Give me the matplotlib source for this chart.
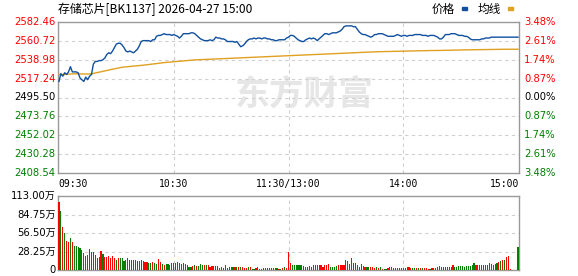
import matplotlib
matplotlib.use("Agg")
import matplotlib.pyplot as plt
from matplotlib.patches import Rectangle
import numpy as np

# --- data ---
title = "存储芯片[BK1137] 2026-04-27 15:00"
prev_close = 2495.50
price_ticks = [2408.54, 2430.28, 2452.02, 2473.76, 2495.50, 2517.24, 2538.98, 2560.72, 2582.46]
pct_labels = ["3.48%", "2.61%", "1.74%", "0.87%", "0.00%", "0.87%", "1.74%", "2.61%", "3.48%"][::-1]
vol_ticks = [0, 28.25, 56.50, 84.75, 113.00]
vol_labels = ["0", "28.25万", "56.50万", "84.75万", "113.00万"]
time_labels = ["09:30", "10:30", "11:30/13:00", "14:00", "15:00"]
time_pos = [0, 60, 120, 180, 240]

price = [
    2514, 2523, 2520, 2524, 2522, 2525, 2531, 2525, 2525, 2525,
    2524, 2518, 2516, 2514, 2519, 2516, 2520, 2522, 2534, 2537,
    2537, 2538, 2538, 2539, 2541, 2545, 2547, 2546, 2549, 2553,
    2557, 2558, 2558, 2556, 2553, 2549, 2548, 2549, 2548, 2547,
    2549, 2551, 2555, 2560, 2561, 2561, 2561, 2561, 2560, 2562,
    2562, 2566, 2567, 2567, 2568, 2569, 2568, 2568, 2568, 2567,
    2568, 2567, 2566, 2564, 2566, 2569, 2569, 2569, 2569, 2570,
    2570, 2569, 2567, 2565, 2563, 2562, 2561, 2561, 2561, 2562,
    2561, 2562, 2565, 2564, 2564, 2563, 2563, 2562, 2560, 2560,
    2560, 2560, 2559, 2560, 2557, 2554, 2555, 2557, 2560, 2562,
    2563, 2563, 2564, 2563, 2564, 2564, 2563, 2564, 2564, 2563,
    2563, 2562, 2562, 2561, 2561, 2562, 2562, 2562, 2562, 2564,
    2565, 2567, 2567, 2566, 2564, 2562, 2561, 2560, 2560, 2562,
    2563, 2564, 2563, 2564, 2563, 2561, 2563, 2565, 2567, 2569,
    2569, 2568, 2569, 2570, 2570, 2570, 2571, 2572, 2574, 2577,
    2578, 2578, 2578, 2578, 2577, 2577, 2574, 2571, 2569, 2568,
    2568, 2567, 2566, 2565, 2566, 2568, 2568, 2569, 2569, 2569,
    2568, 2567, 2566, 2566, 2566, 2566, 2567, 2568, 2567, 2566,
    2567, 2567, 2566, 2567, 2567, 2567, 2568, 2568, 2568, 2568,
    2567, 2567, 2567, 2566, 2567, 2567, 2567, 2566, 2565, 2563,
    2563, 2565, 2568, 2568, 2568, 2569, 2569, 2569, 2568, 2567,
    2567, 2567, 2566, 2566, 2565, 2563, 2562, 2562, 2562, 2562,
    2562, 2563, 2563, 2564, 2564, 2564, 2565, 2565, 2565, 2565,
    2565, 2565, 2565, 2565, 2565, 2565, 2565, 2565, 2565, 2565, 2565,
]

avg = [
    2522.0, 2521.8, 2521.9, 2522.1, 2522.0, 2522.3, 2522.6, 2522.7, 2522.8, 2522.8,
    2522.8, 2522.7, 2522.6, 2522.5, 2522.5, 2522.5, 2522.6, 2522.8, 2523.2, 2523.7,
    2524.2, 2524.7, 2525.2, 2525.7, 2526.2, 2526.7, 2527.2, 2527.6, 2528.0, 2528.5,
    2529.0, 2529.5, 2529.9, 2530.3, 2530.6, 2530.8, 2531.0, 2531.2, 2531.4, 2531.5,
    2531.7, 2531.9, 2532.1, 2532.4, 2532.7, 2533.0, 2533.3, 2533.6, 2533.8, 2534.0,
    2534.3, 2534.6, 2534.9, 2535.2, 2535.5, 2535.7, 2535.9, 2536.1, 2536.3, 2536.5,
    2536.6, 2536.8, 2537.0, 2537.2, 2537.4, 2537.6, 2537.8, 2538.0, 2538.2, 2538.4,
    2538.6, 2538.8, 2538.9, 2539.0, 2539.2, 2539.3, 2539.4, 2539.5, 2539.6, 2539.7,
    2539.8, 2539.9, 2540.0, 2540.1, 2540.2, 2540.3, 2540.4, 2540.5, 2540.6, 2540.7,
    2540.8, 2540.9, 2541.0, 2541.1, 2541.2, 2541.3, 2541.4, 2541.5, 2541.6, 2541.7,
    2541.8, 2541.9, 2542.0, 2542.1, 2542.2, 2542.3, 2542.4, 2542.5, 2542.6, 2542.7,
    2542.8, 2542.9, 2543.0, 2543.1, 2543.2, 2543.3, 2543.3, 2543.4, 2543.5, 2543.6,
    2543.7, 2543.8, 2543.9, 2544.0, 2544.1, 2544.2, 2544.3, 2544.4, 2544.5, 2544.6,
    2544.7, 2544.8, 2544.9, 2545.0, 2545.1, 2545.2, 2545.3, 2545.4, 2545.5, 2545.6,
    2545.7, 2545.8, 2545.9, 2546.0, 2546.1, 2546.2, 2546.3, 2546.4, 2546.5, 2546.6,
    2546.7, 2546.8, 2546.9, 2547.0, 2547.1, 2547.2, 2547.3, 2547.4, 2547.5, 2547.6,
    2547.7, 2547.8, 2547.8, 2547.9, 2548.0, 2548.0, 2548.1, 2548.2, 2548.2, 2548.3,
    2548.4, 2548.4, 2548.5, 2548.5, 2548.6, 2548.6, 2548.7, 2548.7, 2548.8, 2548.8,
    2548.9, 2548.9, 2549.0, 2549.0, 2549.1, 2549.1, 2549.2, 2549.2, 2549.3, 2549.3,
    2549.4, 2549.4, 2549.5, 2549.5, 2549.6, 2549.6, 2549.6, 2549.7, 2549.7, 2549.7,
    2549.8, 2549.8, 2549.8, 2549.9, 2549.9, 2550.0, 2550.0, 2550.1, 2550.1, 2550.2,
    2550.2, 2550.3, 2550.3, 2550.4, 2550.4, 2550.5, 2550.5, 2550.5, 2550.6, 2550.6,
    2550.6, 2550.7, 2550.7, 2550.7, 2550.8, 2550.8, 2550.8, 2550.9, 2550.9, 2550.9,
    2551.0, 2551.0, 2551.0, 2551.0, 2551.0, 2551.0, 2551.1, 2551.1, 2551.1, 2551.1, 2551.1,
]

# volume in 万, with 'r' = up minute, 'g' = down minute
vol = [
    104, 90.6, 66, 56, 45, 43, 49, 43, 36.7, 36.7,
    34.6, 33, 30.5, 25.4, 22, 23, 31.6, 28, 28, 23,
    17.8, 20, 29, 25, 20, 20, 21, 19, 21, 18,
    16, 19, 18, 18, 13, 15, 19, 15, 15, 15,
    15, 14, 13,
    15, 14, 12.5, 12.5, 11, 10, 12.5, 11, 9, 16.5,
    12.5, 9, 7, 9, 9, 8, 10, 10.5, 10, 12,
    10.5, 9, 11, 9, 7.5, 5, 5, 6, 8, 6,
    6, 9, 7.5, 7, 7.5, 7.5, 5, 6, 6, 6,
    6, 3, 5, 2.5, 7, 2.5, 4, 4, 5, 5,
    5, 4, 4, 5, 3, 3, 5, 5, 2, 2,
    2.5, 4, 1.5, 2, 3, 2.5, 3, 3, 2.5, 3,
    3, 3, 1.5, 2, 3, 5, 2.5, 27,
    11, 7, 8, 7, 8, 8, 7, 6, 5, 5,
    6, 4, 8, 8, 7, 7, 7, 5, 7, 8,
    9, 5, 5, 5, 6, 7, 7, 8, 8, 15,
    14, 9, 18, 11, 10, 8, 4, 9, 6, 4,
    5, 4, 4, 4, 3, 4, 3, 4, 1.5, 2,
    2, 2.5, 4, 4, 3, 3, 2.5, 2.5, 3, 2.5,
    3, 4, 4, 3, 3, 3, 2.5, 2.5, 3, 3,
    3, 3, 2, 2, 2.5, 3, 3, 5, 6, 5,
    5, 5, 5, 4, 4, 7, 5, 5, 6, 6,
    6, 5, 6, 6, 6, 7, 10, 7, 7, 8,
    7, 7, 7, 7, 10, 9, 7, 9, 11, 12,
    14, 15, 16, 20, 22,
    1.5, 0, 0, 0, 35,
]
vol_dir = (
    "rgrgrrgrgg" "ggrgrrrrgg" "rrrgrrrrrr" "grgggrrgrr" "rgr"
    "rrrrggrggr" "rgrggrgggr" "rrgrgggrgr" "gggrgrrrrg" "rrrggrgggr"
    "grgrrrgrgg" "rrggrrggrg" "ggrgrgrr"
    "rgggggggrr" "grggrrrrrr" "rggggrrrrr" "ggrgggrggr" "ggrrrgrgrg" "grggrgrrgr"
    "rgrrggrgrg" "rrrgrggggg" "rrgrrrgggg" "gggggggrrg" "rrrrrrrrgr" "grgrr"
    "rrrrg"
)

# --- layout helpers (reference pixel coordinates) ---
W, H = 578, 276
def fx(px):
    return px / W
def fy(py):
    return 1 - py / H

RED = "#ff0000"
GREEN = "#008000"
BLUE = "#1050a0"
GOLD = "#e0a020"
SPINE = "#999999"
GRID = "#d0d0d0"
LBL_FONT = ["DejaVu Sans", "Noto Sans CJK SC"]
CJK_FONT = ["Noto Sans CJK SC", "DejaVu Sans"]

fig = plt.figure(figsize=(W / 100, H / 100), dpi=100)
fig.patch.set_facecolor("white")

x = np.arange(len(price))
xv = np.arange(len(vol))

# --- price panel ---
ax = fig.add_axes([fx(58), fy(173), fx(461), 151 / H])
ax.set_xlim(-0.5, 240.5)
ax.set_ylim(price_ticks[0], price_ticks[-1])
for v in price_ticks[1:-1]:
    ax.axhline(v, color=GRID, lw=0.8, ls=(0, (3, 3)), zorder=1)
for t in time_pos[1:-1]:
    ax.axvline(t, color=GRID, lw=0.8, ls=(0, (3, 3)), zorder=1)

# watermark
ax.text(0.535, 0.52, "东方财富", transform=ax.transAxes, fontsize=25, fontweight="bold",
        color="#e6e6e6", ha="center", va="center", family=CJK_FONT, style="italic", zorder=0)

ax.plot(x, avg, color=GOLD, lw=1.0, zorder=3)
ax.plot(x, price, color=BLUE, lw=1.0, zorder=4)

ax.set_xticks([])
ax.set_yticks([])
for s in ax.spines.values():
    s.set_color(SPINE)
    s.set_linewidth(1.0)

for i, v in enumerate(price_ticks):
    if v > prev_close + 0.001:
        c = RED
    elif v < prev_close - 0.001:
        c = GREEN
    else:
        c = "black"
    ax.text(-0.005, v, f"{v:.2f}", transform=ax.get_yaxis_transform(), ha="right",
            va="center", fontsize=7.2, color=c, family=LBL_FONT)
    ax.text(1.011, v, pct_labels[i], transform=ax.get_yaxis_transform(), ha="left",
            va="center", fontsize=7.2, color=c, family=LBL_FONT)

for lab, t in zip(time_labels, time_pos):
    ha = "center"
    if t == time_pos[0]:
        ha = "left"
    elif t == time_pos[-1]:
        ha = "right"
    xpos = t if ha == "center" else (-0.5 if ha == "left" else 240.5)
    ax.text(xpos, -0.04, lab, transform=ax.get_xaxis_transform(), ha=ha, va="top",
            fontsize=7, family=["DejaVu Sans Mono", "DejaVu Sans"], color="black")

# --- title and legend ---
fig.text(fx(58), fy(9), title, ha="left", va="center", fontsize=8.6, family=CJK_FONT)
fig.text(fx(432), fy(9), "价格", ha="left", va="center", fontsize=8.4, family=CJK_FONT)
fig.text(fx(478), fy(9), "均线", ha="left", va="center", fontsize=8.4, family=CJK_FONT)
fig.patches.append(Rectangle((fx(462), fy(10)), fx(5), 3 / H, transform=fig.transFigure,
                             color=BLUE, figure=fig))
fig.patches.append(Rectangle((fx(508), fy(10)), fx(5), 3 / H, transform=fig.transFigure,
                             color=GOLD, figure=fig))

# --- volume panel ---
axv = fig.add_axes([fx(58), fy(270), fx(461), 74 / H])
axv.set_xlim(-0.5, 240.5)
axv.set_ylim(vol_ticks[0], vol_ticks[-1])
for v in vol_ticks[1:-1]:
    axv.axhline(v, color=GRID, lw=0.8, ls=(0, (3, 3)), zorder=1)
for t in time_pos[1:-1]:
    axv.axvline(t, color=GRID, lw=0.8, ls=(0, (3, 3)), zorder=1)
bar_colors = [RED if d == "r" else GREEN for d in vol_dir[:len(vol)]]
axv.bar(xv, vol, width=0.6, color=bar_colors, linewidth=0, zorder=3, antialiased=False)
axv.set_xticks([])
axv.set_yticks([])
for s in axv.spines.values():
    s.set_color(SPINE)
    s.set_linewidth(1.0)
for v, lab in zip(vol_ticks, vol_labels):
    axv.text(-0.005, v, lab, transform=axv.get_yaxis_transform(), ha="right",
             va="center", fontsize=7.2, color="black", family=LBL_FONT)

fig.savefig("out.png", dpi=100, facecolor="white")
